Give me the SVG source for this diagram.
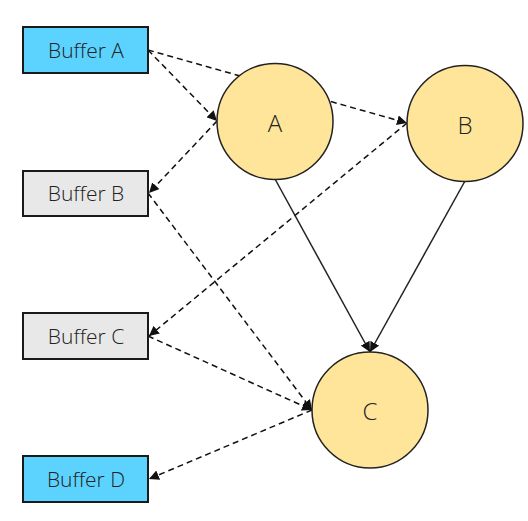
<svg xmlns="http://www.w3.org/2000/svg" width="528" height="521" viewBox="0 0 528 521">
<style>
.buf{stroke:#1a1a1a;stroke-width:2}
.blue{fill:#5CD3FF}
.grey{fill:#E8E8E8}
.circ{fill:#FFE599;stroke:#222;stroke-width:1.5}
.lbl{font-family:"Open Sans","Noto Sans",sans-serif;font-size:21px;font-weight:300;fill:#222;text-anchor:middle;dominant-baseline:central}
.clbl{font-family:"Open Sans","Noto Sans",sans-serif;font-size:24px;font-weight:300;fill:#222;text-anchor:middle;dominant-baseline:central}
.dash{fill:none;stroke:#111;stroke-width:1.5;stroke-dasharray:6 4}
.solid{fill:none;stroke:#222;stroke-width:1.5}
</style>
<defs>
<marker id="ah" viewBox="0 0 10 10" refX="10" refY="5" markerWidth="10" markerHeight="10" markerUnits="userSpaceOnUse" orient="auto">
<path d="M0,0 L10,5 L0,10 z" fill="#111"/>
</marker>
</defs>
<g id="connectors">
<line class="dash" x1="148" y1="50" x2="407" y2="123" marker-end="url(#ah)"/>
<line class="dash" x1="148" y1="50" x2="217" y2="121" marker-end="url(#ah)"/>
<line class="dash" x1="217" y1="121" x2="149" y2="193" marker-end="url(#ah)"/>
<line class="dash" x1="148" y1="193" x2="312" y2="410" marker-end="url(#ah)"/>
<line class="dash" x1="407" y1="123" x2="149" y2="336" marker-end="url(#ah)"/>
<line class="dash" x1="148" y1="336" x2="312" y2="410" marker-end="url(#ah)"/>
<line class="dash" x1="312" y1="410" x2="149" y2="479" marker-end="url(#ah)"/>
<line class="solid" x1="275" y1="179" x2="370" y2="352" marker-end="url(#ah)"/>
<line class="solid" x1="465" y1="181" x2="370" y2="352" marker-end="url(#ah)"/>
</g>
<g id="bufferA"><rect class="buf blue" x="23" y="27" width="125" height="46"/><text class="lbl" x="86" y="50">Buffer A</text></g>
<g id="bufferB"><rect class="buf grey" x="23" y="171" width="125" height="45"/><text class="lbl" x="86" y="193">Buffer B</text></g>
<g id="bufferC"><rect class="buf grey" x="23" y="313" width="125" height="46"/><text class="lbl" x="86" y="336">Buffer C</text></g>
<g id="bufferD"><rect class="buf blue" x="23" y="456" width="125" height="46"/><text class="lbl" x="86" y="479">Buffer D</text></g>
<g id="nodeA"><circle class="circ" cx="275" cy="121.5" r="58"/><text class="clbl" x="275" y="122">A</text></g>
<g id="nodeB"><circle class="circ" cx="465" cy="123.5" r="58"/><text class="clbl" x="465" y="124">B</text></g>
<g id="nodeC"><circle class="circ" cx="370" cy="410" r="58"/><text class="clbl" x="370" y="410">C</text></g>
</svg>
